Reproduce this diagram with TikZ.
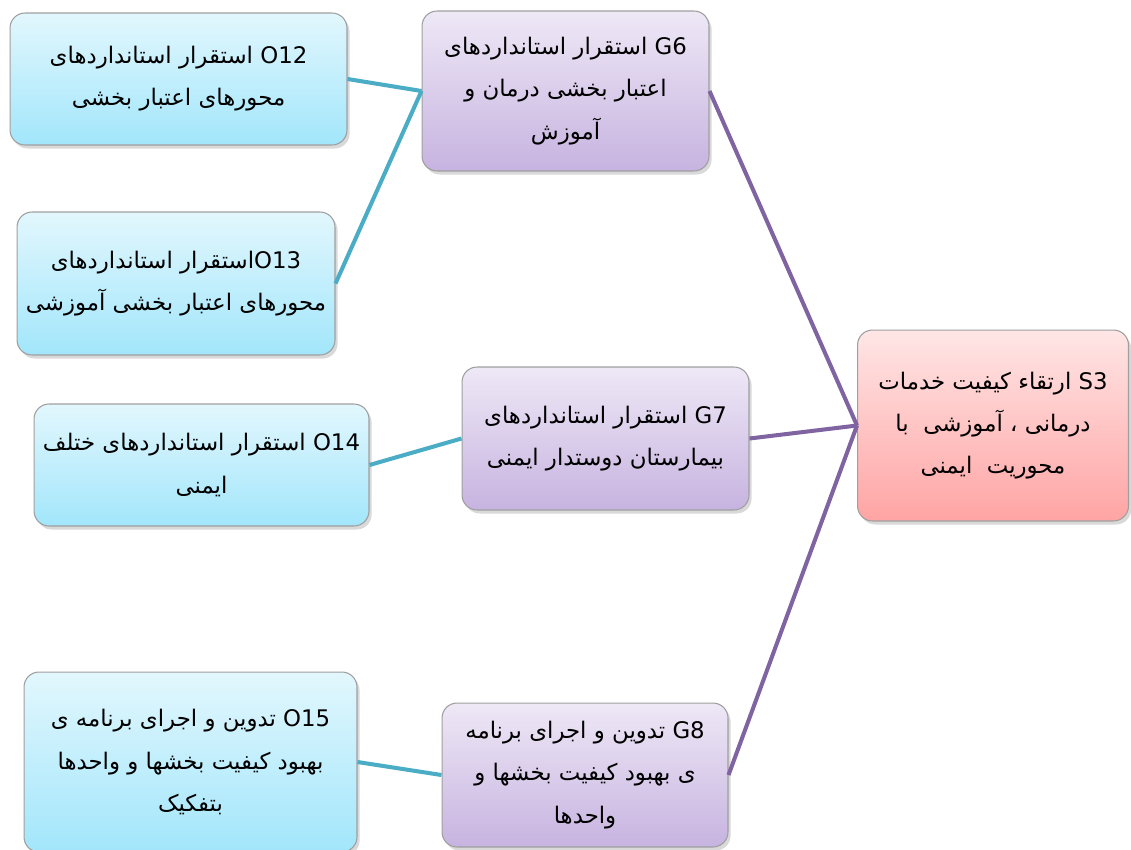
\documentclass[tikz,border=0pt]{standalone}
\usepackage{fontspec}
\newfontfamily\arabicfont[Script=Arabic]{DejaVu Sans}
\TeXXeTstate=1
\usetikzlibrary{shadows}

\definecolor{objtop}{HTML}{E2F7FD}
\definecolor{objbot}{HTML}{A2E6FB}
\definecolor{goaltop}{HTML}{EEE8F6}
\definecolor{goalbot}{HTML}{C7B3E0}
\definecolor{strtop}{HTML}{FFE6E6}
\definecolor{strbot}{HTML}{FFA4A4}
\definecolor{aqualine}{HTML}{4BACC6}
\definecolor{purpleline}{HTML}{8064A2}

\newcommand{\rl}[1]{\beginR #1\endR}
\newcommand{\lr}[1]{\beginL #1\endL{}}

\begin{document}
\begin{tikzpicture}[x=0.02cm,y=-0.02cm,
    box/.style={rounded corners=0.3cm, draw=gray!75, line width=0.6pt,
        align=center, inner sep=1pt,
        font=\arabicfont\fontsize{13}{24}\selectfont,
        drop shadow={shadow xshift=1.5pt, shadow yshift=-2pt, opacity=0.3}},
    objbox/.style={box, top color=objtop, bottom color=objbot},
    goalbox/.style={box, top color=goaltop, bottom color=goalbot},
    strbox/.style={box, top color=strtop, bottom color=strbot},
    aqua/.style={draw=aqualine, line width=2.3pt},
    purp/.style={draw=purpleline, line width=2.3pt}]
                    % \helpgrid{3}{3}
                    \useasboundingbox (0,0) rectangle (1131,849);

                    % objectives
                    \node [objbox, minimum width=6.74cm, minimum height=2.64cm] (o12) at (178.5,79)
                        {\rl{\lr{O12} استقرار استانداردهای}\\\rl{محورهای اعتبار بخشی}};
                    \node [objbox, minimum width=6.36cm, minimum height=2.86cm] (o13) at (176,283.5)
                        {\rl{\lr{O13}استقرار استانداردهای}\\\rl{محورهای اعتبار بخشی آموزشی}};
                    \node [objbox, minimum width=6.70cm, minimum height=2.44cm] (o14) at (201.5,465)
                        {\rl{\lr{O14} استقرار استانداردهای ختلف}\\\rl{ایمنی}};
                    \node [objbox, minimum width=6.66cm, minimum height=3.60cm] (o15) at (190.5,762)
                        {\rl{\lr{O15} تدوین و اجرای برنامه ی}\\\rl{بهبود کیفیت بخشها و واحدها}\\\rl{بتفکیک}};

                    % goals
                    \node [goalbox, minimum width=5.74cm, minimum height=3.20cm] (g6) at (565.5,91)
                        {\rl{\lr{G6} استقرار استانداردهای}\\\rl{اعتبار بخشی درمان و}\\\rl{آموزش}};
                    \node [goalbox, minimum width=5.74cm, minimum height=2.86cm] (g7) at (605.5,438.5)
                        {\rl{\lr{G7} استقرار استانداردهای}\\\rl{بیمارستان دوستدار ایمنی}};
                    \node [goalbox, minimum width=5.72cm, minimum height=2.88cm] (g8) at (585,775)
                        {\rl{\lr{G8} تدوین و اجرای برنامه}\\\rl{ی بهبود کیفیت بخشها و}\\\rl{واحدها}};

                    % strategy
                    \node [strbox, minimum width=5.42cm, minimum height=3.82cm] (s3) at (993,425.5)
                        {\rl{\lr{S3} ارتقاء کیفیت خدمات}\\\rl{درمانی ، آموزشی \ با}\\\rl{محوریت \ ایمنی}};

                    \draw [aqua] (o12.east) -- (g6.west);
                    \draw [aqua] (o13.east) -- (g6.west);
                    \draw [aqua] (o14.east) -- (g7.west);
                    \draw [aqua] (o15.east) -- (g8.west);

                    \draw [purp] (g6.east) -- (s3.west);
                    \draw [purp] (g7.east) -- (s3.west);
                    \draw [purp] (g8.east) -- (s3.west);

\end{tikzpicture}
\end{document}
